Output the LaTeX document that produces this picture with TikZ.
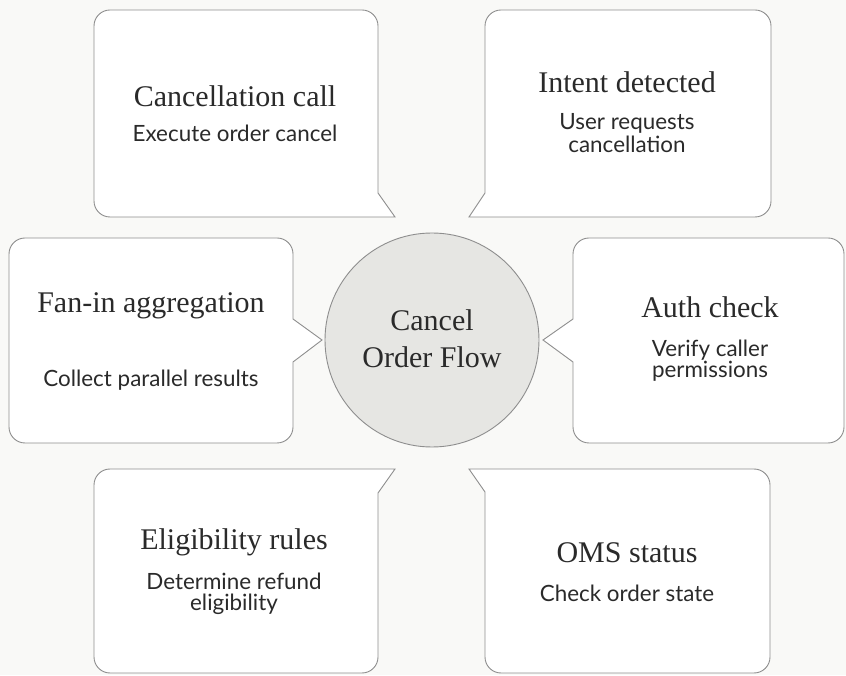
\documentclass[tikz,border=0pt]{standalone}
\usepackage{fontspec}
\setmainfont{Liberation Serif}
\newfontfamily\subfont{Lato}
\definecolor{bgc}{HTML}{F9F9F7}
\definecolor{edgec}{HTML}{8E8E8E}
\definecolor{circc}{HTML}{E6E6E3}
\definecolor{txtc}{HTML}{2A2A2A}
\begin{document}
\begin{tikzpicture}[x=1pt,y=1pt,
  callout/.style={draw=edgec, fill=white, line width=0.9pt, line join=miter},
  ttl/.style={anchor=base, inner sep=0pt, text=txtc, font=\fontsize{30}{34}\selectfont},
  sub/.style={anchor=base, inner sep=0pt, text=txtc, font=\subfont\fontsize{22.4}{25}\selectfont}]
\fill[bgc] (0,0) rectangle (846,675);
\useasboundingbox (0,0) rectangle (846,675);

% Cancellation call (pointer bottom-right)
\path[callout] (94,474) -- (94,649) arc[start angle=180,end angle=90,radius=16]
  -- (362,665) arc[start angle=90,end angle=0,radius=16]
  -- (378,482) -- (395,458) -- (110,458) arc[start angle=270,end angle=180,radius=16] -- cycle;
% Intent detected (pointer bottom-left)
\path[callout] (469,458) -- (485,482) -- (485,649) arc[start angle=180,end angle=90,radius=16]
  -- (755,665) arc[start angle=90,end angle=0,radius=16]
  -- (771,474) arc[start angle=0,end angle=-90,radius=16] -- cycle;
% Fan-in aggregation (pointer right)
\path[callout] (9,248) -- (9,421) arc[start angle=180,end angle=90,radius=16]
  -- (277,437) arc[start angle=90,end angle=0,radius=16]
  -- (293,356) -- (322,335) -- (293,313) -- (293,248) arc[start angle=0,end angle=-90,radius=16]
  -- (25,232) arc[start angle=270,end angle=180,radius=16] -- cycle;
% Auth check (pointer left)
\path[callout] (573,248) -- (573,313) -- (543,335) -- (573,356) -- (573,421) arc[start angle=180,end angle=90,radius=16]
  -- (828,437) arc[start angle=90,end angle=0,radius=16]
  -- (844,248) arc[start angle=0,end angle=-90,radius=16]
  -- (589,232) arc[start angle=270,end angle=180,radius=16] -- cycle;
% Eligibility rules (pointer top-right)
\path[callout] (94,18) -- (94,190) arc[start angle=180,end angle=90,radius=16]
  -- (395,206) -- (378,182) -- (378,18) arc[start angle=0,end angle=-90,radius=16]
  -- (110,2) arc[start angle=270,end angle=180,radius=16] -- cycle;
% OMS status (pointer top-left)
\path[callout] (485,18) -- (485,183) -- (469,206) -- (754,206) arc[start angle=90,end angle=0,radius=16]
  -- (770,18) arc[start angle=0,end angle=-90,radius=16]
  -- (501,2) arc[start angle=270,end angle=180,radius=16] -- cycle;

% centre
\node[circle, draw=edgec, fill=circc, line width=0.9pt, minimum size=214pt, inner sep=0pt] (hub) at (432,335) {};
\node[ttl] (hub1) at (432,344) {Cancel};
\node[ttl] (hub2) at (432,307) {Order Flow};

\node[ttl] (c1) at (235,568) {Cancellation call};
\node[sub] (c2) at (235,533) {Execute order cancel};

\node[ttl] (i1) at (627,582) {Intent detected};
\node[sub] (i2) at (627,545) {User requests};
\node[sub] (i3) at (627,522) {cancellation};

\node[ttl] (f1) at (151,362) {Fan-in aggregation};
\node[sub] (f2) at (151,288) {Collect parallel results};

\node[ttl] (a1) at (710,357) {Auth check};
\node[sub] (a2) at (710,318) {Verify caller};
\node[sub] (a3) at (710,297) {permissions};

\node[ttl] (e1) at (234,125) {Eligibility rules};
\node[sub] (e2) at (234,86) {Determine refund};
\node[sub] (e3) at (234,65) {eligibility};

\node[ttl] (o1) at (627,112) {OMS status};
\node[sub] (o2) at (627,74) {Check order state};
\end{tikzpicture}
\end{document}
